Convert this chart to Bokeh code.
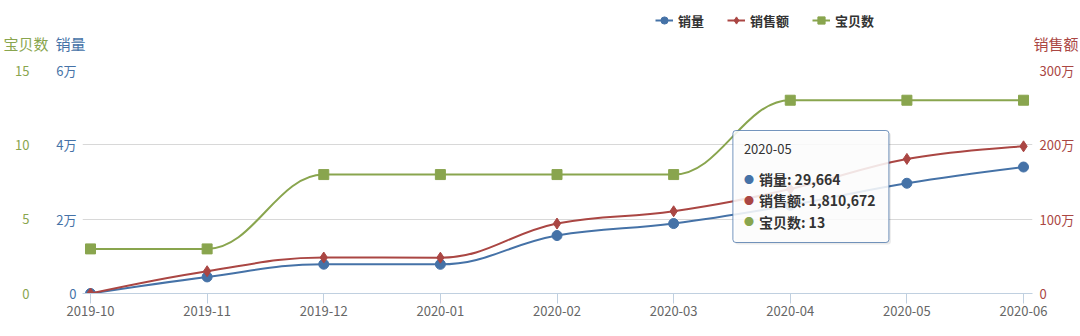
from bokeh.plotting import figure
from bokeh.models import (Range1d, LinearAxis, FixedTicker, Legend, LegendItem,
                          Label, BoxAnnotation, ColumnDataSource)
from bokeh.embed import file_html
from bokeh.resources import INLINE

# ---- data -------------------------------------------------------------
months = ["2019-10", "2019-11", "2019-12", "2020-01", "2020-02",
          "2020-03", "2020-04", "2020-05", "2020-06"]
sales = [0, 4460, 7880, 7850, 15590, 18820, 23740, 29664, 34030]          # 销量
amount = [0, 299700, 484000, 482000, 941000, 1106000, 1405000, 1810672, 1980000]  # 销售额
items = [3, 3, 8, 8, 8, 8, 13, 13, 13]                                     # 宝贝数

sales_ticks = [0, 20000, 40000, 60000]
sales_tick_labels = ["0", "2万", "4万", "6万"]
amount_ticks = [0, 1000000, 2000000, 3000000]
amount_tick_labels = ["0", "100万", "200万", "300万"]
items_ticks = [0, 5, 10, 15]
items_tick_labels = ["0", "5", "10", "15"]

series_names = ["销量", "销售额", "宝贝数"]
hover_index = 7

# ---- style ------------------------------------------------------------
BLUE, RED, GREEN = "#4572A7", "#AA4643", "#89A54E"
FONT = "Noto Sans CJK SC"
W = 1080
HEAD_H = 60                      # strip holding legend and axis titles
H = 336 - HEAD_H                 # chart below it
BL, BR, BT, BB = 82, 48, 10, 43
FRAME_W, FRAME_H = W - BL - BR, H - BT - BB
PAD_L, PAD_R = 0.0686, 0.077
XS = FRAME_W / (len(months) - 1 + PAD_L + PAD_R)   # px per category step
YS = FRAME_H / sales_ticks[-1]                     # px per unit of 销量


def spline_segments(vals, smoothing=1.5):
    """Cubic bezier segments through the points (Highcharts-style spline)."""
    n = len(vals)
    xs = list(range(n))
    left, right = [None] * n, [None] * n
    d = smoothing + 1
    for i in range(1, n - 1):
        x, y = xs[i], vals[i]
        lx, ly = xs[i - 1], vals[i - 1]
        nx, ny = xs[i + 1], vals[i + 1]
        lcx, lcy = (smoothing * x + lx) / d, (smoothing * y + ly) / d
        rcx, rcy = (smoothing * x + nx) / d, (smoothing * y + ny) / d
        corr = ((rcy - lcy) * (rcx - x)) / (rcx - lcx) + y - rcy
        lcy += corr
        rcy += corr
        if lcy > ly and lcy > y:
            lcy = max(ly, y); rcy = 2 * y - lcy
        elif lcy < ly and lcy < y:
            lcy = min(ly, y); rcy = 2 * y - lcy
        if rcy > ny and rcy > y:
            rcy = max(ny, y); lcy = 2 * y - rcy
        elif rcy < ny and rcy < y:
            rcy = min(ny, y); lcy = 2 * y - rcy
        left[i], right[i] = (lcx, lcy), (rcx, rcy)
    seg = {k: [] for k in ("x0", "y0", "x1", "y1", "cx0", "cy0", "cx1", "cy1")}
    for i in range(1, n):
        a = (xs[i - 1], vals[i - 1])
        b = (xs[i], vals[i])
        c0 = right[i - 1] or a
        c1 = left[i] or b
        seg["x0"].append(a[0]); seg["y0"].append(a[1])
        seg["x1"].append(b[0]); seg["y1"].append(b[1])
        seg["cx0"].append(c0[0]); seg["cy0"].append(c0[1])
        seg["cx1"].append(c1[0]); seg["cy1"].append(c1[1])
    return seg


# ---- header strip: legend + axis titles -------------------------------
head = figure(width=W, height=HEAD_H, output_backend="svg", toolbar_location=None,
              x_range=Range1d(0, W), y_range=Range1d(HEAD_H, 0),
              x_axis_location=None, y_axis_location=None,
              min_border=0, min_border_left=0, min_border_right=0,
              min_border_top=0, min_border_bottom=0)
head.grid.visible = False
head.outline_line_color = None
head.border_fill_color = "white"

for txt, x, align, color in [("宝贝数", 3, "left", GREEN), ("销量", 55, "left", BLUE),
                             ("销售额", 1078, "right", RED)]:
    head.add_layout(Label(x=x, y=43, text=txt, text_align=align,
                          text_baseline="middle", text_font=FONT,
                          text_font_size="15px", text_color=color))

# legend keys: style-only renderers holding no drawable point
nan = float("nan")
key_styles = [(BLUE, "circle", 9), (RED, "diamond", 10), (GREEN, "square", 9)]
legend_items = []
for name, (color, marker, size) in zip(series_names, key_styles):
    ln = head.line(x=[nan, nan], y=[nan, nan], line_color=color, line_width=2)
    mk = head.scatter(x=[nan], y=[nan], marker=marker, size=size,
                      fill_color=color, line_color=color)
    legend_items.append(LegendItem(label=name, renderers=[ln, mk]))
legend = Legend(items=legend_items, orientation="horizontal", location=(655, 30),
                border_line_color=None, background_fill_alpha=0,
                label_text_font=FONT, label_text_font_size="13px",
                label_text_font_style="bold", label_text_color="#333333",
                glyph_width=18, glyph_height=20, label_standoff=5,
                label_height=20, spacing=23, padding=0, margin=0)
head.add_layout(legend)

# ---- main chart -------------------------------------------------------
p = figure(width=W, height=H, output_backend="svg", toolbar_location=None,
           x_range=Range1d(-PAD_L, len(months) - 1 + PAD_R),
           y_range=Range1d(0, sales_ticks[-1]),
           min_border_left=BL, min_border_right=BR,
           min_border_top=BT, min_border_bottom=BB)
p.extra_y_ranges = {"amount": Range1d(0, amount_ticks[-1]),
                    "items": Range1d(0, items_ticks[-1])}
p.outline_line_color = None
p.background_fill_color = "white"
p.border_fill_color = "white"

p.xgrid.visible = False
p.ygrid.ticker = FixedTicker(ticks=sales_ticks)
p.ygrid.grid_line_color = "#D8D8D8"
p.ygrid.grid_line_width = 1

xa = p.xaxis[0]
xa.ticker = FixedTicker(ticks=list(range(len(months))))
xa.major_label_overrides = {i: m for i, m in enumerate(months)}
xa.axis_line_color = "#C0D0E0"
xa.major_tick_line_color = "#C0D0E0"
xa.major_tick_out = 10
xa.major_tick_in = 0
xa.minor_tick_line_color = None
xa.major_label_standoff = 2
xa.major_label_text_font = FONT
xa.major_label_text_font_size = "13px"
xa.major_label_text_color = "#666666"


def style_y(axis, ticks, labels, color, standoff):
    axis.ticker = FixedTicker(ticks=ticks)
    axis.major_label_overrides = dict(zip(ticks, labels))
    axis.axis_line_color = None
    axis.major_tick_line_color = None
    axis.minor_tick_line_color = None
    axis.major_tick_out = 0
    axis.major_tick_in = 0
    axis.major_label_standoff = standoff
    axis.major_label_text_font = FONT
    axis.major_label_text_font_size = "13px"
    axis.major_label_text_color = color


style_y(p.yaxis[0], sales_ticks, sales_tick_labels, BLUE, 6)
items_axis = LinearAxis(y_range_name="items")
style_y(items_axis, items_ticks, items_tick_labels, GREEN, 24)
p.add_layout(items_axis, "left")
amount_axis = LinearAxis(y_range_name="amount")
style_y(amount_axis, amount_ticks, amount_tick_labels, RED, 7)
p.add_layout(amount_axis, "right")


def draw_series(vals, color, marker, size, range_name):
    src = ColumnDataSource(spline_segments(vals))
    p.bezier(x0="x0", y0="y0", x1="x1", y1="y1",
             cx0="cx0", cy0="cy0", cx1="cx1", cy1="cy1",
             source=src, line_color=color, line_width=2,
             y_range_name=range_name)
    p.scatter(x=list(range(len(vals))), y=vals, marker=marker, size=size,
              fill_color=color, line_color=color, y_range_name=range_name)


# series order: later ones sit on top
draw_series(sales, BLUE, "circle", 10, "default")
draw_series(amount, RED, "diamond", 11, "amount")
draw_series(items, GREEN, "square", 10, "items")


# ---- tooltip for the hovered month -----------------------------------
def cy(canvas_y):
    """Vertical position (in 销量 units) of a pixel row of the whole page."""
    return (HEAD_H + H - BB - canvas_y) / YS


def tx(off):
    return hover_index + off / XS


hx = hover_index
tip_l, tip_r, tip_t, tip_b = -174, -18, 130, 242
p.add_layout(BoxAnnotation(left=tx(tip_l + 2), right=tx(tip_r + 2),
                           top=cy(tip_t + 2), bottom=cy(tip_b + 2),
                           fill_color="black", fill_alpha=0.08, line_color=None,
                           border_radius=3))
p.add_layout(BoxAnnotation(left=tx(tip_l), right=tx(tip_r),
                           top=cy(tip_t), bottom=cy(tip_b),
                           fill_color="white", fill_alpha=0.86,
                           line_color=BLUE, line_alpha=0.75, line_width=1,
                           border_radius=3))
p.add_layout(Label(x=tx(tip_l + 11), y=cy(148), text=months[hx],
                   text_baseline="middle", text_font=FONT,
                   text_font_size="13px", text_color="#333333"))
rows = [(series_names[0], sales[hx], BLUE),
        (series_names[1], amount[hx], RED),
        (series_names[2], items[hx], GREEN)]
for k, (name, val, color) in enumerate(rows):
    yy = cy(178.5 + 21.3 * k)
    p.add_layout(Label(x=tx(tip_l + 16), y=yy, text="●", text_align="center",
                       text_baseline="middle", text_font=FONT,
                       text_font_size="10px", text_color=color))
    p.add_layout(Label(x=tx(tip_l + 26), y=yy, text=f"{name}: {val:,}",
                       text_baseline="middle", text_font=FONT,
                       text_font_size="14px", text_font_style="bold",
                       text_color="#333333"))

open("out.html", "w").write(file_html([head, p], INLINE))
